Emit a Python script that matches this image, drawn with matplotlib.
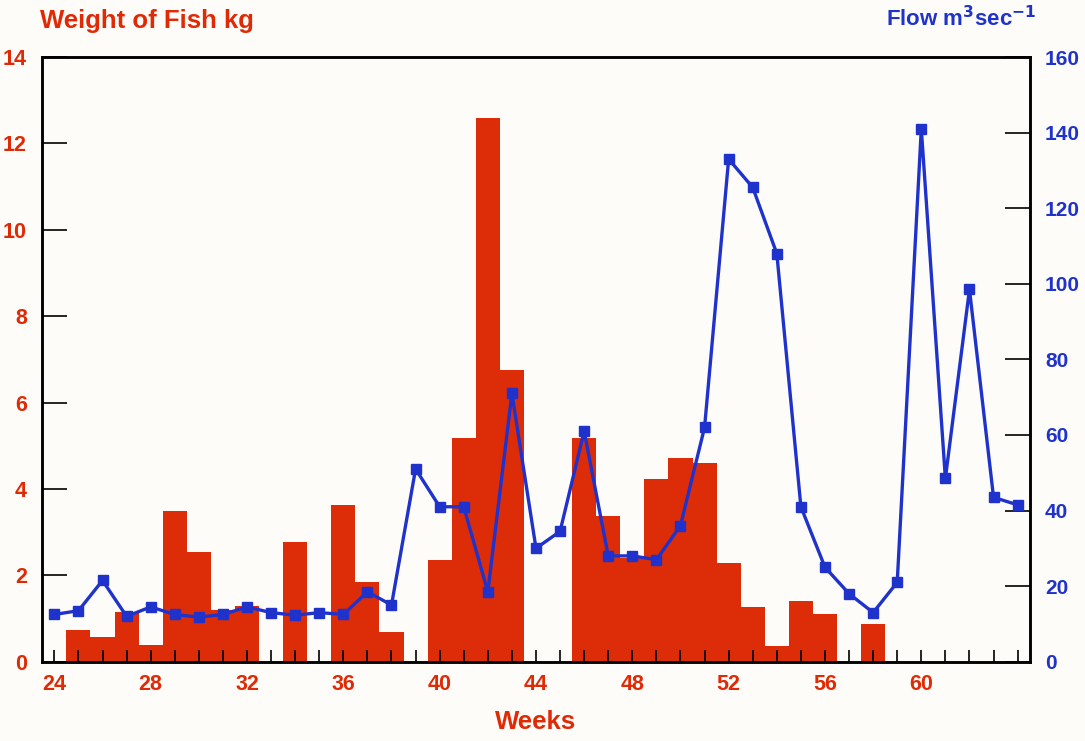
import matplotlib.pyplot as plt
from matplotlib.ticker import MultipleLocator

# --- data ---
weeks = list(range(24, 65))
fish_kg = [0.0, 0.74, 0.57, 1.16, 0.38, 3.5, 2.53, 1.2, 1.3, 0.0,
           2.77, 0.0, 3.64, 1.85, 0.68, 0.0, 2.35, 5.19, 12.6, 6.75,
           0.0, 0.0, 5.19, 3.37, 2.4, 4.22, 4.71, 4.59, 2.28, 1.27,
           0.37, 1.40, 1.10, 0.0, 0.87, 0.0, 0.0, 0.0, 0.0, 0.0, 0.0]
flow = [12.5, 13.5, 21.5, 12.0, 14.5, 12.5, 11.8, 12.5, 14.5, 13.0,
        12.3, 13.0, 12.5, 18.5, 15.0, 51.0, 41.0, 41.0, 18.5, 71.0,
        30.0, 34.5, 61.0, 28.0, 28.0, 27.0, 36.0, 62.0, 133.0, 125.5,
        108.0, 41.0, 25.0, 18.0, 13.0, 21.0, 141.0, 48.5, 98.5, 43.5, 41.5]
x_labels = [24, 28, 32, 36, 40, 44, 48, 52, 56, 60]

RED = "#e02a06"
BAR = "#dd2c08"
BLUE = "#1f33cc"
plt.rcParams["font.family"] = ["Liberation Sans", "DejaVu Sans"]

fig = plt.figure(figsize=(10.85, 7.41), dpi=100)
fig.patch.set_facecolor("#fdfcf8")
ax = fig.add_axes([0.039, 0.107, 0.910, 0.816])
ax.set_facecolor("#fdfcf8")

# fish weight as touching bars
ax.bar(weeks, fish_kg, width=1.0, color=BAR, edgecolor="none", zorder=1)
ax.set_xlim(23.5, 64.5)
ax.set_ylim(0, 14)
ax.set_xticks(x_labels)
ax.xaxis.set_minor_locator(MultipleLocator(1))
ax.yaxis.set_major_locator(MultipleLocator(2))
ax.tick_params(axis="x", which="both", direction="in", length=9, width=1.2,
               labelsize=15.5, labelcolor=RED, pad=9, top=False)
ax.tick_params(axis="y", direction="in", length=18, width=1.2,
               labelsize=15.5, labelcolor=RED, pad=11, right=False)
for lab in ax.get_xticklabels() + ax.get_yticklabels():
    lab.set_fontweight("bold")
for s in ax.spines.values():
    s.set_linewidth(1.8)

# flow on the right axis
ax2 = ax.twinx()
ax2.plot(weeks, flow, color=BLUE, lw=2.4, marker="s", markersize=7,
         markerfacecolor=BLUE, markeredgecolor=BLUE, zorder=3)
ax2.set_ylim(0, 160)
ax2.yaxis.set_major_locator(MultipleLocator(20))
ax2.tick_params(axis="y", direction="in", length=18, width=1.2,
                labelsize=15, labelcolor=BLUE, pad=11)
for lab in ax2.get_yticklabels():
    lab.set_fontweight("bold")
for s in ax2.spines.values():
    s.set_linewidth(1.8)

fig.text(0.037, 0.972, "Weight of Fish kg", color=RED, fontsize=18.5,
         fontweight="bold", ha="left", va="center")
fig.text(0.955, 0.975, r"Flow m$^{\mathbf{3}}$sec$^{\mathbf{-1}}$", color=BLUE,
         fontsize=16, fontweight="bold", ha="right", va="center")
fig.text(0.494, 0.025, "Weeks", color=RED, fontsize=18.5, fontweight="bold",
         ha="center", va="center")

fig.savefig("out.png", dpi=100, facecolor=fig.get_facecolor())
